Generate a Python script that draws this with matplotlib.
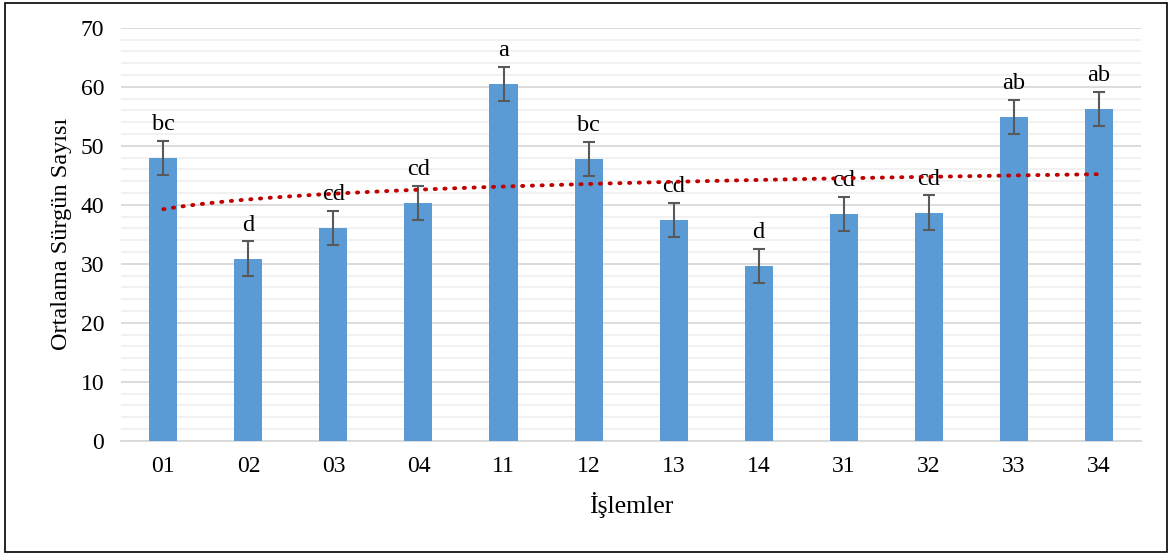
import numpy as np
import matplotlib.pyplot as plt
from matplotlib.patches import Rectangle

# data
treatments = ["01", "02", "03", "04", "11", "12", "13", "14", "31", "32", "33", "34"]
means = [48.0, 30.9, 36.1, 40.3, 60.5, 47.8, 37.4, 29.7, 38.4, 38.7, 54.9, 56.2]
errors = [2.9, 2.9, 2.9, 2.9, 2.9, 2.9, 2.9, 2.9, 2.9, 2.9, 2.9, 2.9]
letters = ["bc", "d", "cd", "cd", "a", "bc", "cd", "d", "cd", "cd", "ab", "ab"]

plt.rcParams['font.family'] = ['Liberation Serif', 'DejaVu Serif']

fig = plt.figure(figsize=(11.73, 5.58), dpi=100)
ax = fig.add_axes([0.103, 0.21, 0.870, 0.74])

x = np.arange(len(treatments))
ax.bar(x, means, width=0.33, color='#5b9bd5', zorder=3)
ax.errorbar(x, means, yerr=errors, fmt='none', ecolor='#595959',
            elinewidth=1.5, capsize=4.5, capthick=1.5, zorder=4)

for xi, m, e, lab in zip(x, means, errors, letters):
    ax.text(xi, m + e + 1.0, lab, ha='center', va='bottom', fontsize=17.5)

# logarithmic trendline
b, a = np.polyfit(np.log(x + 1), means, 1)
xt = np.linspace(1, len(treatments), 200)
ax.plot(xt - 1, a + b * np.log(xt), color='#c00000', lw=2.8,
        linestyle=(0, (0.3, 2.2)), dash_capstyle='round', zorder=5)

ax.set_ylim(0, 70)
ax.set_xlim(-0.5, len(treatments) - 0.5)
ax.set_yticks(np.arange(0, 71, 10))
ax.set_yticks(np.arange(0, 71, 2), minor=True)
ax.set_xticks(x)
ax.set_xticklabels(treatments)
ax.grid(axis='y', which='major', color='#d9d9d9', lw=1.3, zorder=0)
ax.grid(axis='y', which='minor', color='#f0f0f0', lw=1.3, zorder=0)
ax.tick_params(axis='both', which='both', length=0, labelsize=17)
ax.tick_params(axis='y', pad=12)
ax.tick_params(axis='x', pad=11)
for s in ['top', 'right', 'left']:
    ax.spines[s].set_visible(False)
ax.spines['bottom'].set_color('#d9d9d9')
ax.spines['bottom'].set_linewidth(1.3)

ax.set_ylabel('Ortalama Sürgün Sayısı', fontsize=17.5, labelpad=6)
ax.set_xlabel('İşlemler', fontsize=18.5, labelpad=11)

fig.patches.append(Rectangle((0.004, 0.01), 0.991, 0.985, transform=fig.transFigure,
                             fill=False, edgecolor='black', lw=1.2))

fig.savefig('out.png', dpi=100)
